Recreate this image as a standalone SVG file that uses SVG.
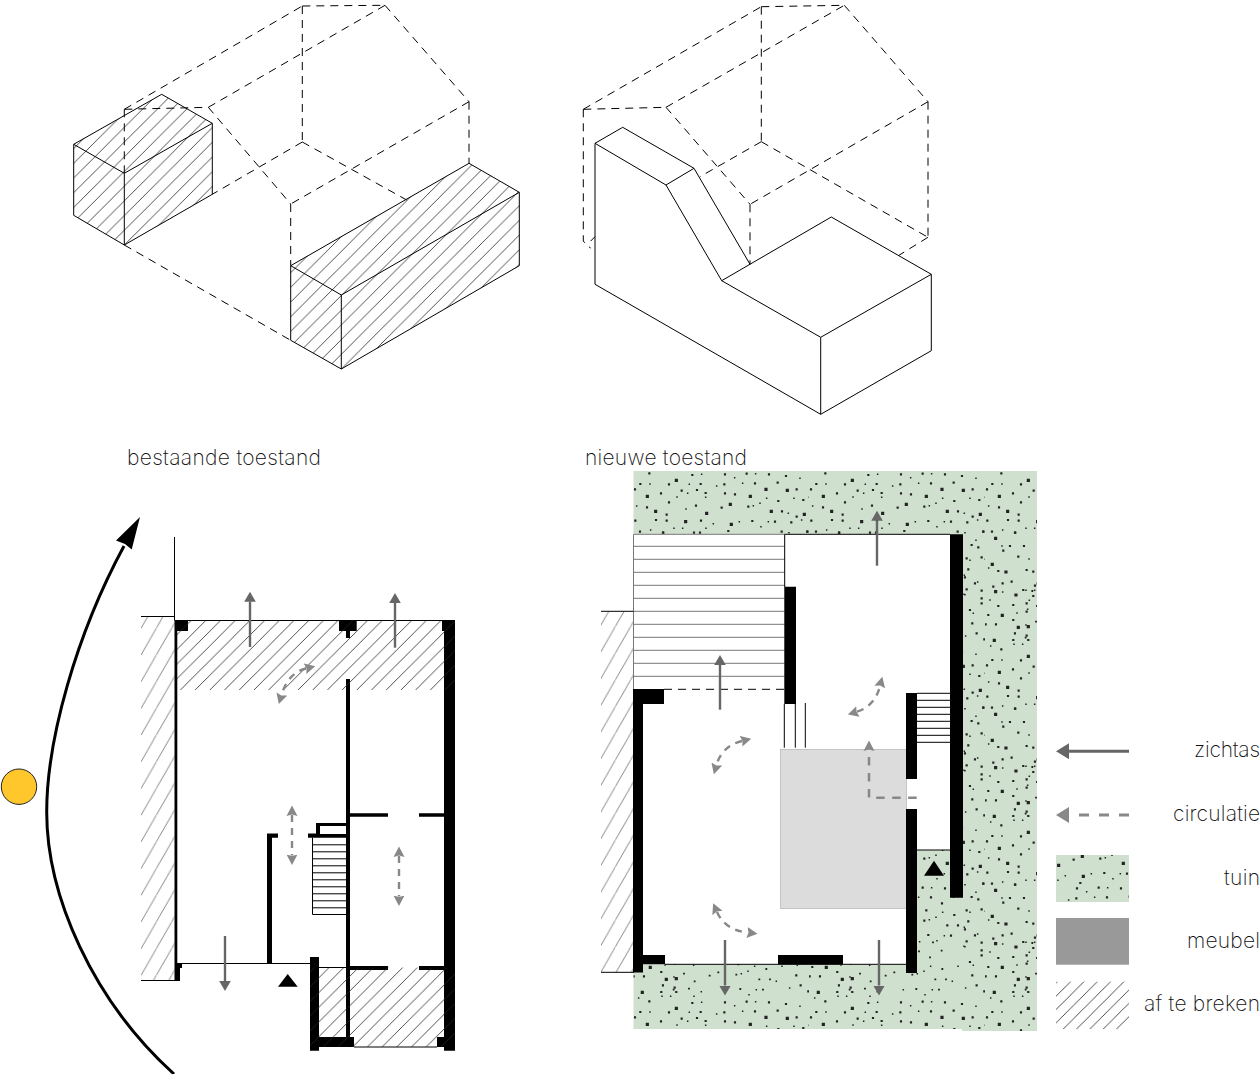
<svg xmlns="http://www.w3.org/2000/svg" width="1260" height="1074" viewBox="0 0 1260 1074">
<style>
text{font-family:"Inter","Lato","Liberation Sans",sans-serif;font-weight:200;font-size:21px;fill:#111}
.k{fill:none;stroke:#000;stroke-width:1}
.d{fill:none;stroke:#000;stroke-width:1;stroke-dasharray:8 6}
.w{fill:#000;stroke:none}
.g{stroke:#777;stroke-width:1;fill:none}
.v{fill:none;stroke:#666;stroke-width:2.400;marker-end:url(#mv)}
.c{fill:none;stroke:#888;stroke-width:2.400;stroke-dasharray:7 6;marker-start:url(#mcs);marker-end:url(#mc)}
</style>
<defs>
<marker id="mv" markerUnits="userSpaceOnUse" markerWidth="12" markerHeight="12" refX="0" refY="6" orient="auto"><path d="M0 .2L10 6L0 11.800Z" fill="#666"/></marker>
<marker id="mc" markerUnits="userSpaceOnUse" markerWidth="12" markerHeight="12" refX="1" refY="6" orient="auto"><path d="M0 .5L10.500 6L0 11.500L1.500 6Z" fill="#888"/></marker>
<marker id="mcs" markerUnits="userSpaceOnUse" markerWidth="12" markerHeight="12" refX="11" refY="6" orient="auto"><path d="M12 .5L1.500 6L12 11.500L10.500 6Z" fill="#888"/></marker>
<pattern id="h1" patternUnits="userSpaceOnUse" x="3.100" width="14.700" height="14.700"><path d="M-1 15.700L15.700 -1" stroke="#222" stroke-width=".8"/></pattern>
<pattern id="hL" patternUnits="userSpaceOnUse" x="1.800" width="14.700" height="14.700"><path d="M-1 15.700L15.700 -1" stroke="#222" stroke-width=".8"/></pattern>
<pattern id="hR" patternUnits="userSpaceOnUse" x="4.700" width="14.700" height="14.700"><path d="M-1 15.700L15.700 -1" stroke="#222" stroke-width=".8"/></pattern>
<pattern id="hLeg" patternUnits="userSpaceOnUse" x="12.800" width="13.330" height="13.330"><path d="M-1 14.330L14.330 -1" stroke="#222" stroke-width=".8"/></pattern>
<pattern id="hN" patternUnits="userSpaceOnUse" x="141" y="628.300" width="15.300" height="26.700"><path d="M-1 28.400L16.300 -1.700" stroke="#777" stroke-width=".9"/></pattern>
<pattern id="hN2" patternUnits="userSpaceOnUse" x="600" y="626.600" width="15.300" height="26.700"><path d="M-1 28.400L16.300 -1.700" stroke="#777" stroke-width=".9"/></pattern>
<path id="dB" d="M229 31h.01M142 79h.01M391 103h.01M320 130h.01M451 79h.01M257 155h.01M394 163h.01M498 58h.01M562 61h.01M167 124h.01M514 124h.01M613 133h.01"/>
<path id="dM" d="M148 10h.01M277 15h.01M375 13h.01M440 11h.01M507 13h.01M558 18h.01M121 42h.01M207 43h.01M302 42h.01M373 43h.01M465 40h.01M533 38h.01M590 58h.01M633 60h.01M105 58h.01M183 70h.01M207 97h.01M245 62h.01M291 60h.01M317 69h.01M375 70h.01M405 73h.01M535 93h.01M610 90h.01M141 112h.01M200 134h.01M288 107h.01M365 113h.01M445 110h.01M546 124h.01M590 140h.01M106 152h.01M168 150h.01M200 152h.01M303 152h.01M457 153h.01M525 155h.01M574 157h.01M633 152h.01M120 185h.01M190 188h.01M282 188h.01M300 188h.01M385 183h.01M545 185h.01M622 185h.01"/>
<path id="dS" d="M305 13h.01M404 23h.01M467 11h.01M600 25h.01M150 42h.01M268 43h.01M350 48h.01M428 40h.01M231 81h.01M263 70h.01M317 82h.01M500 85h.01M582 85h.01M628 82h.01M110 108h.01M258 117h.01M460 107h.01M480 100h.01M565 130h.01M340 161h.01M418 155h.01M505 155h.01M605 150h.01M152 180h.01M222 175h.01M248 175h.01M318 175h.01M483 170h.01M567 188h.01"/>
<path id="dRb" d="M1187 205h.01M1177 283h.01M1248 375h.01M1187 365h.01M1207 436h.01M1183 511h.01M1255 472h.01M1218 306h.01M1285 470h.01"/>
<path id="dRm" d="M1245 188h.01M1230 228h.01M1272 228h.01M1210 242h.01M1255 260h.01M1195 303h.01M1280 300h.01M1300 305h.01M1180 350h.01M1208 340h.01M1235 335h.01M1305 347h.01M1270 360h.01M1300 378h.01M1195 408h.01M1240 405h.01M1280 400h.01M1165 435h.01M1240 450h.01M1280 425h.01M1157 463h.01M1188 463h.01M1245 490h.01M1280 497h.01M1285 510h.01M1240 510h.01"/>
<path id="dCm" d="M1150 185h.01M1115 225h.01M1135 232h.01M1145 262h.01M1100 265h.01M1105 298h.01M1095 322h.01M1125 340h.01M1100 358h.01M1145 362h.01M1145 385h.01M1145 400h.01M1110 420h.01M1117 460h.01M1130 490h.01M1153 508h.01"/>
<path id="dMid" d="M257 155h.01M391 103h.01M320 130h.01M451 79h.01M498 58h.01M514 124h.01M277 15h.01M375 13h.01M440 11h.01M507 13h.01M302 42h.01M373 43h.01M465 40h.01M533 38h.01M291 60h.01M317 69h.01M405 73h.01M535 93h.01M288 107h.01M365 113h.01M445 110h.01M546 124h.01M303 152h.01M457 153h.01M525 155h.01"/>
<pattern id="dots" patternUnits="userSpaceOnUse" x="633" y="471" width="176" height="176">
<rect width="176" height="176" fill="#D0E0CF"/>
<g fill="none" stroke="#222" stroke-linecap="square">
<g transform="translate(-33 -1) scale(.3333)">
<use href="#dB" stroke-width="9.500"/><use href="#dM" stroke-width="6.500"/><use href="#dS" stroke-width="4.500"/>
</g>
<g transform="translate(-385 -1) scale(.3333)"><use href="#dRb" stroke-width="9.500"/><use href="#dRm" stroke-width="6.500"/></g>
<g transform="translate(-209 -1) scale(.3333)"><use href="#dCm" stroke-width="6.500"/></g>
<g transform="translate(-33 61) scale(.3333)"><use href="#dMid" stroke-width="6.500"/><use href="#dS" stroke-width="4.500"/></g>
<g transform="translate(-45 115) scale(.3333)"><use href="#dMid" stroke-width="5.500"/><use href="#dS" stroke-width="4.500"/></g>
</g>
</pattern>
</defs>

<g id="iso-bestaand">
<path d="M73.700 144.300L161.700 94.300L212.300 123.300V194.300L124.300 245L73.700 215.300Z" fill="url(#hL)"/>
<path d="M290.700 265.700L469 163.300L519.300 192.300V265.700L341.300 369L290.700 340.300Z" fill="url(#hR)"/>
<path class="d" d="M124.300 109.300L302.300 6M208.300 107.300L385 5.300M302.300 6L385 5.300M124.300 109.300L208.300 107.300M385 5.300L469 101.700M208.300 107.300L290.700 204M302.300 6V142M469 101.700V163M469 101.700L290.700 204M302.300 142L212.300 194.300M302.300 142L406.700 200M290.700 204V265.700M124.300 245L290.700 340.300M124.300 109.300V173.300"/>
<path class="k" d="M73.700 144.300L161.700 94.300L212.300 123.300V194.300L124.300 245L73.700 215.300ZM73.700 144.300L124.300 173.300L212.300 123.300M124.300 173.300V245"/>
<path class="k" d="M290.700 265.700L469 163.300L519.300 192.300V265.700L341.300 369L290.700 340.300ZM290.700 265.700L341.300 295L519.300 192.300M341.300 295V369"/>
</g>

<g id="iso-nieuw">
<path class="d" d="M583.300 109.300L761.300 6.700M666 107.300L844.300 5.300M761.300 6.700L844.300 5.300M583.300 109.300L666 107.300M844.300 5.300L928 101.700M666 107.300L750 204.300M761.300 6.700V141.700M928 101.700V237.300M928 101.700L750 204.300M761.300 141.700L700 176.700M761.300 141.700L928 237.300M750 204.300V264.300M583.300 109.300V241L587 245.500L590.700 248M590.700 241L595 236.700M928 237.300L898.300 255.700"/>
<path class="k" d="M595 143.300L622.700 127.300L694 168.300L750 264.300M595 143.300L666 185L721.700 280.700L820.700 337.300L931.300 274.300L831.300 217L721.700 280.700M666 185L694 168.300M595 143.300V284.300L820.700 414.300V337.300M820.700 414.300L931.300 350.700V274.300"/>
</g>

<text id="t-bestaand" x="127" y="465" textLength="194">bestaande toestand</text>
<text id="t-nieuw" x="585" y="465" textLength="162">nieuwe toestand</text>

<g id="zon-baan">
<circle cx="19" cy="786.700" r="17.700" fill="#FFC72C" stroke="#222" stroke-width="1"/>
<path d="M174 1074C92 1000 46.700 895 46.700 812C46.700 740 76 635 124 546" fill="none" stroke="#000" stroke-width="3"/>
<path d="M140 517L116 540.600L125 544L131.700 549.600Z" fill="#000"/>
</g>

<g id="plan-bestaand">
<rect x="141" y="616.500" width="33.500" height="364" fill="url(#hN)"/>
<path class="k" d="M174.500 537V620M141 616.500H174.500M141 980.500H180M174.500 620.500H455M182 963.500H312M319 967.500H346M354 1047H437"/>
<g class="w">
<path d="M174.500 620H188V631H177.300V963H182V968H180V980.500H174.500Z"/>
<path d="M339 620H356.700V631H350V638H346V631H339Z"/>
<path d="M346 679H350V1037H346Z"/>
<path d="M442 620H455V1050.700H444V631H442Z"/>
<path d="M350 813.300H388V816.700H350ZM419 813.300H444V816.700H419ZM350 966H388V970H350ZM419 966H444V970H419Z"/>
<path d="M316 823H347V826H320V834H347V837.700H308V833.500H316ZM267 833.500H278V837.700H272V963.500H267Z"/>
<path d="M310 957H319V1037H354V1047H319V1050.700H310ZM437 1037H444V1047H437Z"/>
</g>
<rect x="177" y="620.500" width="278" height="69.500" fill="url(#h1)"/>
<rect x="310" y="967.500" width="145" height="79.500" fill="url(#h1)"/>
<path class="k" d="M312.500 837.700V914.500H347M312.500 844.800H347M312.500 851.800H347M312.500 858.800H347M312.500 865.800H347M312.500 872.800H347M312.500 879.800H347M312.500 886.800H347M312.500 893.800H347M312.500 900.800H347M312.500 907.800H347"/>
<path d="M278 986.700H297.700L287.700 974Z" fill="#000"/>
</g>

<g id="plan-nieuw">
<path d="M633.500 471H1037V1031H962V1029H633.500Z" fill="url(#dots)"/>
<path d="M784.700 534.300H950V850H917V964.300H643V689H784.700Z" fill="#fff"/>
<rect x="633.500" y="534.300" width="151" height="155" fill="#fff"/>
<rect x="601" y="611.500" width="32.500" height="361" fill="url(#hN2)"/>
<path class="g" d="M633.500 534.300V689M633.500 534.300H784.700M633.500 546.300H784.700M633.500 559.300H784.700M633.500 572.300H784.700M633.500 585.300H784.700M633.500 598.300H784.700M633.500 611.300H784.700M633.500 624.300H784.700M633.500 637.300H784.700M633.500 650.300H784.700M633.500 663.300H784.700M633.500 676.300H784.700"/>
<rect x="780.500" y="749.500" width="126" height="159" fill="#DCDCDC" stroke="#C4C4C4" stroke-width="1"/>
<path class="k" d="M601 611.300H633.500M601 972.300H634M784.700 534.300H950M784.700 534.300V587M665 964.300H906M917 850H950M784.300 704V747.700M795.300 704V747.700M805.300 703V747.700"/>
<path class="d" d="M664 689.300H784"/>
<path class="k" d="M917 693.300H950M917 700.300H950M917 707.300H950M917 714.300H950M917 721.300H950M917 728.300H950M917 735.300H950M917 742.300H950"/>
<g class="w">
<path d="M633 689H664V704H643V955H665V964.300H643V972.500H633Z"/>
<path d="M784.300 586.700H796V704H784.300Z"/>
<path d="M950 534.300H963V897.700H950Z"/>
<path d="M906 693H917V779H906ZM906 809H917V973H906Z"/>
<path d="M778 955H843V964.300H778Z"/>
<path d="M924 875.700H944L934 860.700Z"/>
</g>
</g>

<g id="connectors">
<path class="v" d="M250 647V601.700"/>
<path class="v" d="M395 647.700V603"/>
<path class="v" d="M225 936V981"/>
<path class="v" d="M877 565.700V520.700"/>
<path class="v" d="M720 709.700V665"/>
<path class="v" d="M725 940V985.500"/>
<path class="v" d="M879 940V985.500"/>
<path class="c" d="M306 668.500Q288 673 281.500 695"/>
<path class="c" d="M292 815V855.500"/>
<path class="c" d="M399 856V896.500"/>
<path class="c" d="M857 711.700Q875 706 880 686"/>
<path class="c" d="M742 741Q722 746 716.500 765"/>
<path class="c" d="M717 912Q725 930 748 932.700"/>
<path d="M916.700 797.700H869V750" fill="none" stroke="#888" stroke-width="2.500" stroke-dasharray="8.500 7.500" marker-end="url(#mc)"/>
</g>

<g id="legenda">
<g id="leg-zichtas"><path d="M1129 751.300H1069" stroke="#666" stroke-width="3" fill="none"/><path d="M1056 751.300L1069 743.300V759.300Z" fill="#666"/><text x="1260" y="757" text-anchor="end" textLength="66">zichtas</text></g>
<g id="leg-circulatie"><path d="M1129 815H1075" stroke="#888" stroke-width="3" stroke-dasharray="10 10" fill="none"/><path d="M1056 815L1069 807V823Z" fill="#888"/><text x="1260" y="820.500" text-anchor="end" textLength="87">circulatie</text></g>
<g id="leg-tuin"><rect x="1056" y="855" width="73" height="47" fill="url(#dots)"/><text x="1260" y="884.500" text-anchor="end" textLength="36">tuin</text></g>
<g id="leg-meubel"><rect x="1056" y="918" width="73" height="46.700" fill="#999"/><text x="1260" y="947.700" text-anchor="end" textLength="73">meubel</text></g>
<g id="leg-breken"><rect x="1056" y="981.700" width="73" height="47.300" fill="url(#hLeg)"/><text x="1260" y="1011" text-anchor="end" textLength="116">af te breken</text></g>
</g>
</svg>
